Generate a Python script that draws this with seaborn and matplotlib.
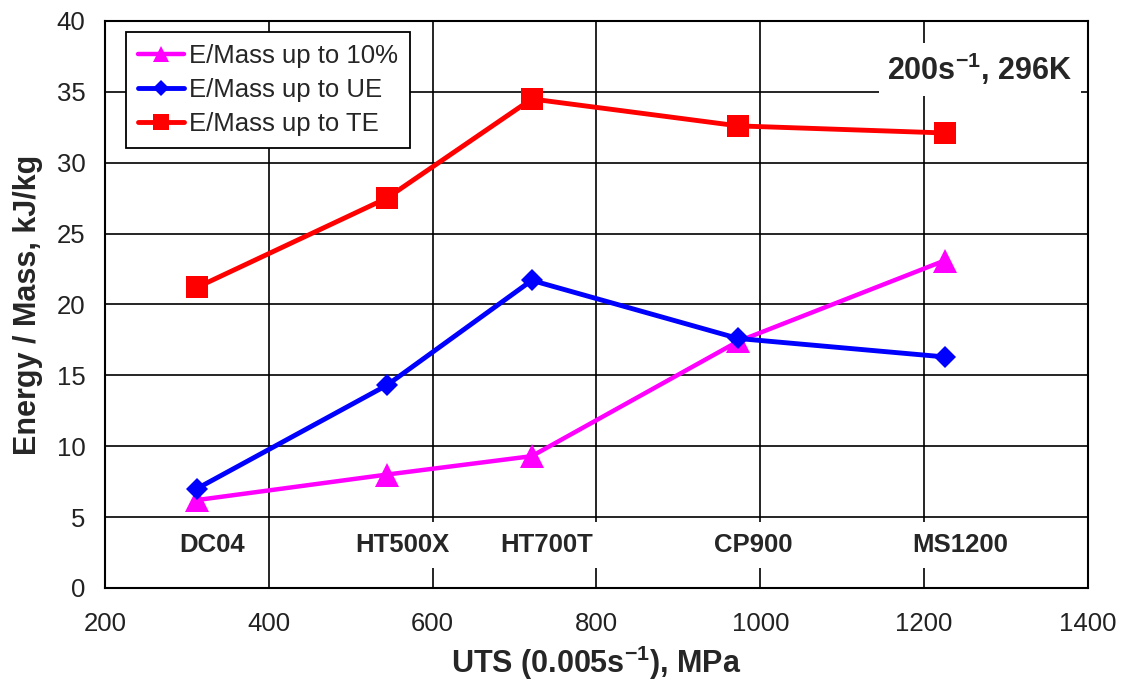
import matplotlib
matplotlib.use("Agg")
import matplotlib.pyplot as plt
from matplotlib.ticker import MultipleLocator
import pandas as pd
import seaborn as sns

# steel grades and their quasi-static UTS (MPa)
steels = ["DC04", "HT500X", "HT700T", "CP900", "MS1200"]
uts = [312, 544, 721, 973, 1225]

# energy absorbed per mass, kJ/kg
e_10pct = [6.2, 8.0, 9.3, 17.4, 23.1]
e_ue = [7.0, 14.3, 21.7, 17.6, 16.3]
e_te = [21.2, 27.5, 34.5, 32.6, 32.1]

series_names = ["E/Mass up to 10%", "E/Mass up to UE", "E/Mass up to TE"]

sns.set_theme(style="white")
plt.rcParams['font.family'] = ['Liberation Sans', 'DejaVu Sans']
plt.rcParams['mathtext.fontset'] = 'custom'
plt.rcParams['mathtext.rm'] = 'Liberation Sans'
plt.rcParams['mathtext.bf'] = 'Liberation Sans:bold'

df = pd.DataFrame({
    "uts": uts * 3,
    "energy": e_10pct + e_ue + e_te,
    "series": [s for s in series_names for _ in uts],
})

fig = plt.figure(figsize=(11.35, 6.86), dpi=100)
ax = fig.add_axes([0.0925, 0.1429, 0.8661, 0.8265])

styles = {
    "E/Mass up to 10%": dict(color="#ff00ff", marker="^", markersize=17, linewidth=3.2),
    "E/Mass up to UE": dict(color="#0000ff", marker="D", markersize=11.5, linewidth=3.5),
    "E/Mass up to TE": dict(color="#ff0000", marker="s", markersize=16, linewidth=3.5),
}
for name in series_names:
    sub = df[df["series"] == name]
    sns.lineplot(data=sub, x="uts", y="energy", label=name, ax=ax,
                 markeredgewidth=0, zorder=4, **styles[name])

ax.set_xlim(200, 1400)
ax.set_ylim(0, 40)
ax.xaxis.set_major_locator(MultipleLocator(200))
ax.xaxis.set_minor_locator(MultipleLocator(40))
ax.yaxis.set_major_locator(MultipleLocator(5))
ax.grid(True, which="major", color="black", linewidth=1.2)
ax.set_axisbelow(True)
ax.tick_params(axis="both", which="major", length=0, labelsize=18.5, colors="#222222", pad=14)
ax.tick_params(axis="x", which="major", pad=17)
ax.tick_params(axis="x", which="minor", direction="in", length=5, width=1.2, color="black")
for sp in ax.spines.values():
    sp.set_color("black")
    sp.set_linewidth(1.5)

ax.set_xlabel(r"UTS (0.005s$^{\mathbf{-1}}$), MPa", fontsize=22, fontweight="bold", labelpad=6)
ax.set_ylabel("Energy / Mass, kJ/kg", fontsize=22, fontweight="bold", labelpad=10)

# steel grade names just above the x axis
for name, x in zip(steels, uts):
    ax.annotate(name, xy=(x, 3.0), xytext=(11, 0), textcoords="offset points",
                ha="center", va="center", fontsize=18.5, fontweight="bold", zorder=3,
                bbox=dict(facecolor="white", edgecolor="none", pad=8))

ax.text(0.984, 0.915, r"200s$^{\mathbf{-1}}$, 296K", transform=ax.transAxes,
        ha="right", va="center", fontsize=22, fontweight="bold", zorder=3,
        bbox=dict(facecolor="white", edgecolor="none", pad=6))

leg = ax.legend(loc="upper left", bbox_to_anchor=(0.0214, 0.9806), borderaxespad=0,
                fontsize=18.5, frameon=True, fancybox=False, edgecolor="black",
                framealpha=1, markerscale=0.7, handlelength=1.8, handletextpad=0.2,
                labelspacing=0.4, borderpad=0.45)
leg.get_frame().set_linewidth(1.3)
leg.set_zorder(5)

fig.savefig("out.png", dpi=100)
